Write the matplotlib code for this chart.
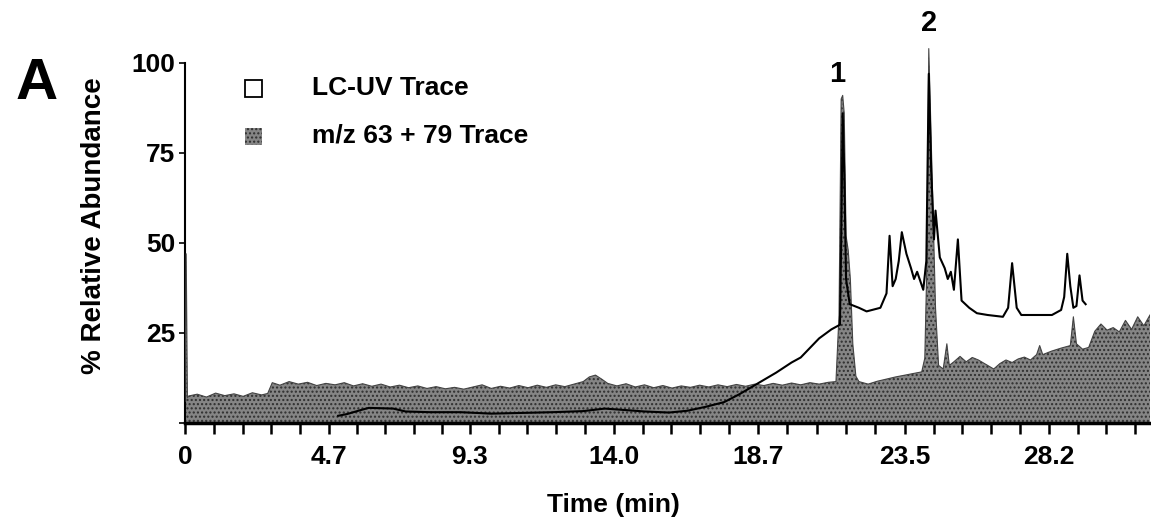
import matplotlib
matplotlib.use("Agg")
import matplotlib.pyplot as plt
import numpy as np
from matplotlib.patches import Rectangle

plt.rcParams['font.family'] = ['Liberation Sans', 'DejaVu Sans']
plt.rcParams['font.weight'] = 'bold'
plt.rcParams['hatch.linewidth'] = 1.0

# LC-UV trace (black line), time in min, % relative abundance
uv_time = [5.0, 5.3, 5.7, 6.0, 6.8, 7.2, 8.0, 9.0, 10.0, 11.0,
           12.0, 13.0, 13.7, 14.2, 15.0, 15.8, 16.4, 17.0, 17.6, 18.1,
           18.5, 18.8, 19.3, 19.8, 20.1, 20.7, 21.1, 21.38, 21.42, 21.47,
           21.52, 21.58, 21.7, 22.0, 22.25, 22.7, 22.9, 23.0, 23.1, 23.2,
           23.3, 23.4, 23.55, 23.7, 23.8, 23.9, 24.1, 24.2, 24.28, 24.36,
           24.45, 24.5, 24.64, 24.8, 24.9, 25.0, 25.1, 25.23, 25.35, 25.6,
           25.85, 26.2, 26.7, 26.87, 27.0, 27.15, 27.3, 28.3, 28.6, 28.7,
           28.8, 28.9, 29.0, 29.1, 29.2, 29.3, 29.4]
uv_value = [2.0, 2.5, 3.5, 4.2, 4.0, 3.2, 3.0, 3.0, 2.6, 2.8,
            3.0, 3.3, 4.0, 3.7, 3.2, 2.9, 3.4, 4.5, 5.8, 8.0,
            10.0, 11.5, 14.0, 16.8, 18.2, 23.5, 26.0, 27.3, 50, 86,
            70, 40, 33, 32, 31, 32, 36, 52, 38, 40,
            45, 53, 47, 43, 40, 42, 37, 45, 97, 70,
            51, 59, 46, 43, 40, 42, 37, 51, 34, 32,
            30.5, 30.0, 29.5, 32, 44.4, 32, 30, 30, 31.4, 35,
            47, 38, 32, 32.5, 41, 34, 33]

# m/z 63 + 79 trace (grey filled)
mz_time = [0.0, 0.04, 0.08, 0.12, 0.4, 0.7, 1.0, 1.3, 1.6, 1.9,
           2.2, 2.5, 2.7, 2.85, 3.1, 3.4, 3.7, 4.0, 4.3, 4.6,
           4.9, 5.2, 5.5, 5.8, 6.1, 6.4, 6.7, 7.0, 7.3, 7.6,
           7.9, 8.2, 8.5, 8.8, 9.1, 9.4, 9.7, 10.0, 10.3, 10.6,
           10.9, 11.2, 11.5, 11.8, 12.1, 12.4, 12.7, 13.0, 13.2, 13.4,
           13.6, 13.8, 14.1, 14.4, 14.7, 15.0, 15.3, 15.6, 15.9, 16.2,
           16.5, 16.8, 17.1, 17.4, 17.7, 18.0, 18.3, 18.6, 18.9, 19.2,
           19.5, 19.8, 20.1, 20.4, 20.7, 21.0, 21.25, 21.35, 21.42, 21.47,
           21.52, 21.58, 21.65, 21.72, 21.8, 21.9, 22.0, 22.3, 22.6, 22.9,
           23.2, 23.5, 23.8, 24.05, 24.15, 24.22, 24.28, 24.34, 24.42, 24.5,
           24.6, 24.75, 24.87, 24.95, 25.1, 25.3, 25.5, 25.7, 25.9, 26.1,
           26.4, 26.6, 26.8, 27.0, 27.2, 27.4, 27.6, 27.8, 27.9, 28.0,
           28.3, 28.6, 28.9, 29.0, 29.1, 29.3, 29.5, 29.7, 29.9, 30.1,
           30.3, 30.5, 30.7, 30.9, 31.1, 31.3, 31.5]
mz_value = [6, 47, 7, 7.5, 8, 7.2, 8.3, 7.6, 8.1, 7.4,
            8.4, 7.8, 8.2, 11.2, 10.5, 11.5, 10.8, 11.3, 10.4, 11.0,
            10.6, 11.2, 10.3, 10.9, 10.2, 10.8, 10.0, 10.5, 9.8, 10.3,
            9.6, 10.1, 9.5, 9.9, 9.4, 10.0, 10.6, 9.6, 10.2, 9.7,
            10.4, 9.8, 10.5, 9.9, 10.6, 10.1, 10.8, 11.5, 12.8, 13.3,
            12.2, 11.0, 10.3, 10.9, 10.0, 10.6, 9.8, 10.4, 9.7, 10.3,
            9.9, 10.5, 10.0, 10.6, 10.1, 10.7, 10.2, 10.8, 10.4, 11.0,
            10.5, 11.1, 10.6, 11.2, 10.8, 11.3, 11.5, 30, 90, 91,
            86, 52, 48, 40, 22, 13, 11.5, 10.8, 11.6, 12.2,
            12.8, 13.3, 13.8, 14.2, 18, 45, 104, 85, 58, 32,
            16, 15, 22, 16, 17, 18.5, 17, 18.2, 17.5, 16.5,
            15, 16.5, 17.5, 16.8, 17.8, 18.3, 17.5, 19.0, 21.5, 19.0,
            20.0, 20.8, 21.5, 29.5, 22.0, 20.5, 21.0, 25.5, 27.5, 25.8,
            26.5, 25.3, 28.5, 26.0, 29.5, 27.0, 30.0]

tick_pos = [0, 4.7, 9.3, 14.0, 18.7, 23.5, 28.2]
tick_labels = ['0', '4.7', '9.3', '14.0', '18.7', '23.5', '28.2']
y_ticks = [0, 25, 50, 75, 100]
y_labels = ['', '25', '50', '75', '100']

# minor ticks: four between each labelled tick, then same spacing to the end
minor = []
for a, b in zip(tick_pos[:-1], tick_pos[1:]):
    minor += list(np.linspace(a, b, 6)[1:-1])
minor += [28.2 + 0.94 * k for k in range(1, 4)]

fig = plt.figure(figsize=(11.51, 5.25), dpi=100)
ax = fig.add_axes([0.1607, 0.1943, 0.8384, 0.72])

ax.fill_between(mz_time, 0, mz_value, facecolor='#858585', edgecolor='#2e2e2e',
                hatch='....', linewidth=0, zorder=2)
ax.plot(mz_time, mz_value, color='#444444', lw=0.8, zorder=3)
ax.plot(uv_time, uv_value, color='black', lw=1.5, zorder=4)

ax.set_xlim(0, 31.5)
ax.set_ylim(0, 105)
ax.spines['top'].set_visible(False)
ax.spines['right'].set_visible(False)
ax.spines['left'].set_bounds(0, 100)
ax.spines['left'].set_linewidth(1.5)
ax.spines['bottom'].set_linewidth(2.5)

ax.set_xticks(tick_pos)
ax.set_xticklabels(tick_labels)
ax.set_xticks(minor, minor=True)
ax.tick_params(axis='x', which='both', direction='out', length=8, width=1.8,
               labelsize=19, pad=8)
ax.set_yticks(y_ticks)
ax.set_yticklabels(y_labels)
ax.tick_params(axis='y', direction='out', length=4, width=1.2, labelsize=19, pad=3)

# peak labels
ax.text(21.3, 97, '1', fontsize=21, ha='center', va='center', clip_on=False)
ax.text(24.3, 111, '2', fontsize=21, ha='center', va='center', clip_on=False)

# axis labels and panel letter
fig.text(613 / 1151, 1 - 505 / 525, 'Time (min)', fontsize=19, ha='center', va='center')
fig.text(94 / 1151, 1 - 226 / 525, '% Relative Abundance', fontsize=20,
         rotation=90, ha='center', va='center')
fig.text(37 / 1151, 1 - 84 / 525, 'A', fontsize=42, ha='center', va='center')

# legend
fig.add_artist(Rectangle((245 / 1151, 1 - 97 / 525), 17 / 1151, 17 / 525,
                         facecolor='white', edgecolor='black', lw=1.3,
                         transform=fig.transFigure))
fig.add_artist(Rectangle((245 / 1151, 1 - 145 / 525), 17 / 1151, 17 / 525,
                         facecolor='#858585', edgecolor='#2e2e2e', hatch='....',
                         lw=0, transform=fig.transFigure))
fig.text(312 / 1151, 1 - 88 / 525, 'LC-UV Trace', fontsize=19, va='center')
fig.text(312 / 1151, 1 - 136 / 525, 'm/z 63 + 79 Trace', fontsize=19, va='center')

fig.savefig('out.png', dpi=100)
